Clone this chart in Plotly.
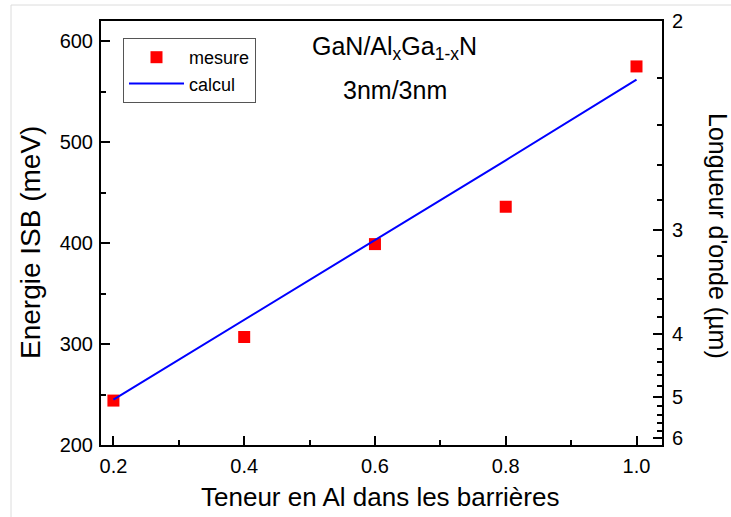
import plotly.graph_objects as go

# ---- data ----
teneur_al = [0.2, 0.4, 0.6, 0.8, 1.0]
mesure_mev = [244, 307, 399, 436, 575]
calcul_x = [0.2, 0.4, 0.6, 0.8, 1.0]
calcul_mev = [245, 324, 403, 482, 562]

energy_ticks = [200, 300, 400, 500, 600]
wavelength_major = [2, 3, 4, 5, 6]
wavelength_minor = [2.2, 2.4, 2.6, 2.8, 3.2, 3.4, 3.6, 3.8, 4.2, 4.4, 4.6, 4.8,
                    5.2, 5.4, 5.6, 5.8, 6.2]
HC = 1240.0  # meV·µm

FONT = "Liberation Sans, Arial, sans-serif"

# plot area in pixels
W, H = 731, 517
L, R, T, B = 101, 69, 21, 72
pw, ph = W - L - R, H - T - B


def px(x):
    return (x - L) / pw


def py(y):
    return (H - B - y) / ph


fig = go.Figure()
fig.add_trace(go.Scatter(
    x=teneur_al, y=mesure_mev, mode="markers", name="mesure",
    marker=dict(symbol="square", size=12, color="#ff0000"),
))
fig.add_trace(go.Scatter(
    x=calcul_x, y=calcul_mev, mode="lines", name="calcul",
    line=dict(color="#0000ff", width=2),
))
# invisible trace tied to the right axis
fig.add_trace(go.Scatter(
    x=teneur_al, y=mesure_mev, mode="markers", yaxis="y2",
    marker=dict(opacity=0), showlegend=False, hoverinfo="skip",
))

axis_common = dict(
    showline=True, linecolor="black", linewidth=2,
    ticks="inside", tickcolor="black", tickwidth=2, ticklen=9,
    showgrid=False, zeroline=False, automargin=False,
    tickfont=dict(family=FONT, size=20, color="black"),
)

fig.update_layout(
    width=W, height=H,
    margin=dict(l=L, r=R, t=T, b=B, autoexpand=False),
    paper_bgcolor="white", plot_bgcolor="white",
    font=dict(family=FONT, color="black"),
    xaxis=dict(
        **axis_common, range=[0.181, 1.039], tickvals=teneur_al,
        ticktext=[f"{v:.1f}" for v in teneur_al], mirror=True,
        minor=dict(tickvals=[0.3, 0.5, 0.7, 0.9], ticks="inside",
                   ticklen=5, tickwidth=2, tickcolor="black"),
        ticklabelstandoff=2,
    ),
    yaxis=dict(
        **axis_common, range=[200, 620], tickvals=energy_ticks, mirror=True,
        minor=dict(tickvals=[250, 350, 450, 550], ticks="inside",
                   ticklen=5, tickwidth=2, tickcolor="black"),
        ticklabelstandoff=2,
    ),
    yaxis2=dict(
        **axis_common, range=[200, 620], overlaying="y", side="right",
        tickvals=[HC / w for w in wavelength_major],
        ticktext=[str(w) for w in wavelength_major],
        minor=dict(tickvals=[HC / w for w in wavelength_minor], ticks="inside",
                   ticklen=5, tickwidth=2, tickcolor="black"),
        ticklabelstandoff=4,
    ),
    showlegend=True,
    legend=dict(
        x=px(123), y=py(38), xanchor="left", yanchor="top",
        bgcolor="white", bordercolor="#555555", borderwidth=1,
        font=dict(family=FONT, size=18, color="black"),
        itemwidth=55, tracegroupgap=0,
    ),
)

annotations = [
    dict(text="Teneur en Al dans les barrières", x=px(380), y=py(497),
         font=dict(size=26)),
    dict(text="Energie ISB (meV)", x=px(30), y=py(243), textangle=-90,
         font=dict(size=28)),
    dict(text="Longueur d'onde (µm)", x=px(718), y=py(236), textangle=90,
         font=dict(size=25)),
    dict(text="GaN/Al<sub>x</sub>Ga<sub>1-x</sub>N", x=px(394), y=py(48),
         font=dict(size=25)),
    dict(text="3nm/3nm", x=px(395), y=py(90), font=dict(size=25)),
]
for a in annotations:
    a.update(xref="paper", yref="paper", showarrow=False,
             xanchor="center", yanchor="middle")
    a["font"].update(family=FONT, color="black")
    fig.add_annotation(**a)

# light frame around the picture
fig.add_shape(type="line", xref="paper", yref="paper",
              x0=px(11), x1=px(11), y0=py(5), y1=py(517),
              line=dict(color="#dcdcdc", width=1))
fig.add_shape(type="line", xref="paper", yref="paper",
              x0=px(11), x1=px(731), y0=py(5), y1=py(5),
              line=dict(color="#dcdcdc", width=1))

fig.write_html(
    "out.html",
    config={"displayModeBar": False},
    post_script="document.body.style.margin='0';document.body.style.overflow='hidden';",
)
